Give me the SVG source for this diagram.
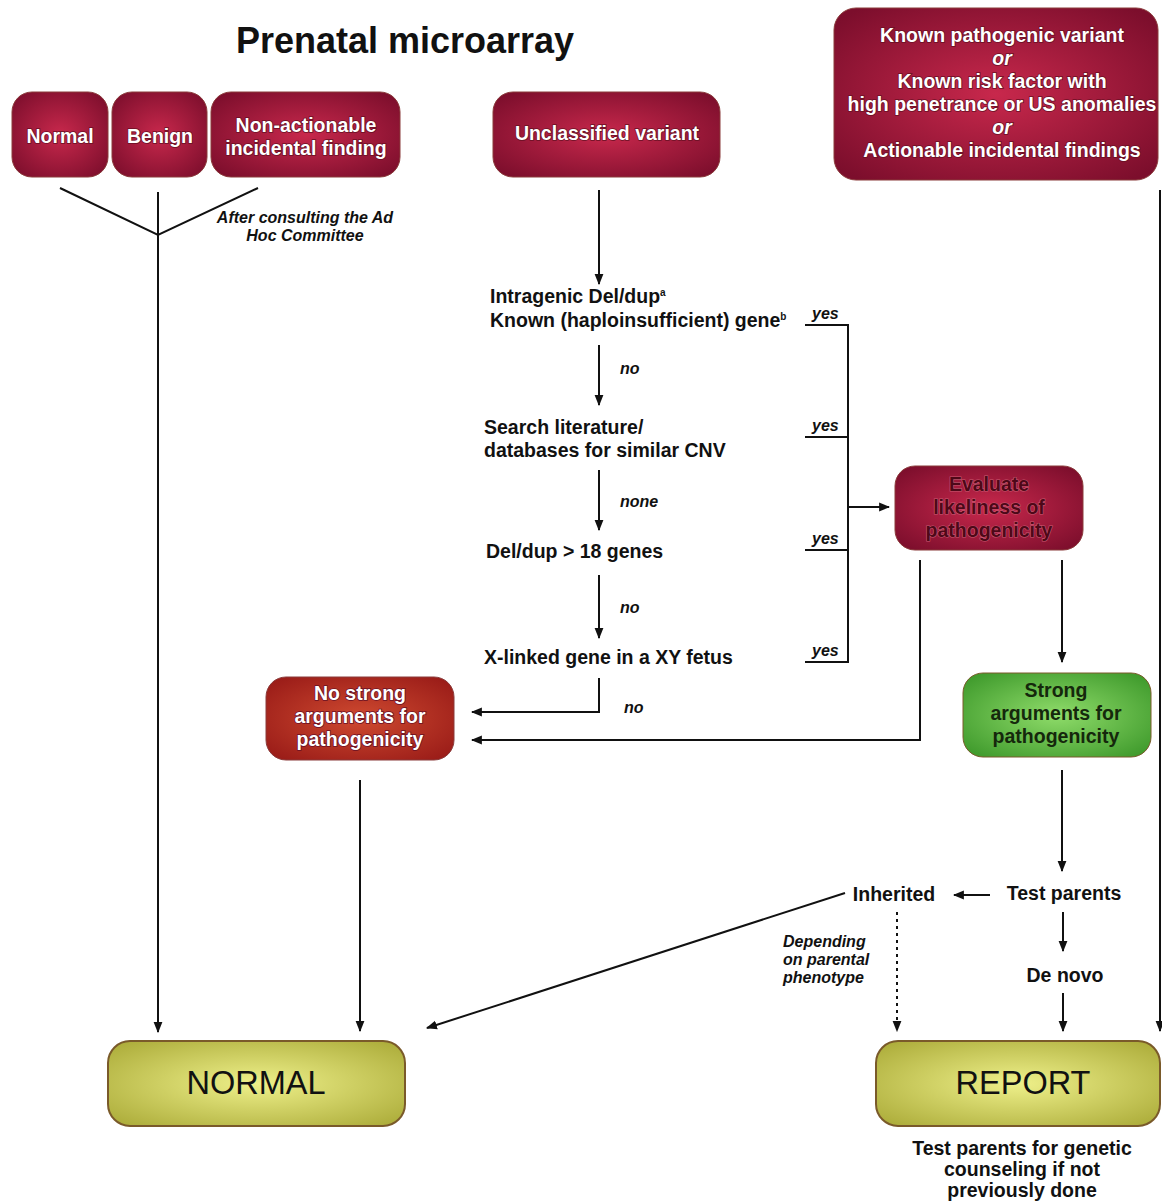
<svg xmlns="http://www.w3.org/2000/svg" width="1162" height="1203" viewBox="0 0 1162 1203">
<defs>
<radialGradient id="crim" cx="50%" cy="50%" r="65%">
<stop offset="0" stop-color="#c8284c"/><stop offset="1" stop-color="#7c0e2c"/>
</radialGradient>
<radialGradient id="red" cx="50%" cy="50%" r="65%">
<stop offset="0" stop-color="#cf4a30"/><stop offset="1" stop-color="#9a1c18"/>
</radialGradient>
<radialGradient id="green" cx="50%" cy="50%" r="65%">
<stop offset="0" stop-color="#8fdc6a"/><stop offset="1" stop-color="#3f9a2c"/>
</radialGradient>
<radialGradient id="olive" cx="50%" cy="50%" r="65%">
<stop offset="0" stop-color="#eef08a"/><stop offset="1" stop-color="#aeae3c"/>
</radialGradient>
<marker id="ah" viewBox="0 0 10 10" refX="9" refY="5" markerWidth="11" markerHeight="11" orient="auto" markerUnits="userSpaceOnUse">
<path d="M0,1 L10,5 L0,9 Z" fill="#111"/>
</marker>
<style>
.box{stroke:#8a3a3a;stroke-width:1}
.w{fill:#fff;font-family:"Liberation Sans",Arial,sans-serif;font-weight:bold;font-size:19.5px;text-anchor:middle;paint-order:stroke;stroke:#6a1024;stroke-width:1.6}
.e{fill:#4e0818;font-family:"Liberation Sans",Arial,sans-serif;font-weight:bold;font-size:19.5px;text-anchor:middle;paint-order:stroke;stroke:#c85a72;stroke-width:1.2}
.g{fill:#15280c;font-family:"Liberation Sans",Arial,sans-serif;font-weight:bold;font-size:19.5px;text-anchor:middle}
.t{fill:#111;font-family:"Liberation Sans",Arial,sans-serif;font-weight:bold;font-size:19.5px}
.i{fill:#111;font-family:"Liberation Sans",Arial,sans-serif;font-weight:bold;font-style:italic;font-size:16px}
.ln{stroke:#111;stroke-width:2;fill:none}
.big{fill:#111;font-family:"Liberation Sans",Arial,sans-serif;font-size:32.5px;text-anchor:middle}
</style>
</defs>
<rect width="1162" height="1203" fill="#fff"/>
<text x="405" y="53" style="font-family:'Liberation Sans',Arial,sans-serif;font-weight:bold;font-size:36px;text-anchor:middle" fill="#111">Prenatal microarray</text>

<g id="normal-top"><rect class="box" x="12" y="92" width="96" height="85" rx="20" fill="url(#crim)"/><text class="w" x="60" y="143">Normal</text></g>
<g id="benign"><rect class="box" x="112" y="92" width="95" height="85" rx="20" fill="url(#crim)"/><text class="w" x="160" y="143">Benign</text></g>
<g id="nonactionable"><rect class="box" x="211" y="92" width="189" height="85" rx="20" fill="url(#crim)"/><text class="w" x="306" y="132">Non-actionable</text><text class="w" x="306" y="155">incidental finding</text></g>
<g id="unclassified"><rect class="box" x="493" y="92" width="227" height="85" rx="20" fill="url(#crim)"/><text class="w" x="607" y="140">Unclassified variant</text></g>
<g id="known"><rect class="box" x="834" y="8" width="324" height="172" rx="22" fill="url(#crim)"/>
<text class="w" x="1002" y="42">Known pathogenic variant</text>
<text class="w" x="1002" y="65" font-style="italic">or</text>
<text class="w" x="1002" y="88">Known risk factor with</text>
<text class="w" x="1002" y="111">high penetrance or US anomalies</text>
<text class="w" x="1002" y="134" font-style="italic">or</text>
<text class="w" x="1002" y="157">Actionable incidental findings</text></g>

<g id="questions">
<text class="t" x="490" y="303">Intragenic Del/dup<tspan font-size="10" dy="-7">a</tspan></text>
<text class="t" x="490" y="327">Known (haploinsufficient) gene<tspan font-size="10" dy="-7">b</tspan></text>
<text class="t" x="484" y="434">Search literature/</text>
<text class="t" x="484" y="457">databases for similar CNV</text>
<text class="t" x="486" y="558">Del/dup &gt; 18 genes</text>
<text class="t" x="484" y="664">X-linked gene in a XY fetus</text>
</g>

<g id="evaluate"><rect class="box" x="895" y="466" width="188" height="84" rx="20" fill="url(#crim)"/>
<text class="e" x="989" y="491">Evaluate</text>
<text class="e" x="989" y="514">likeliness of</text>
<text class="e" x="989" y="537">pathogenicity</text></g>

<g id="nostrong"><rect class="box" x="266" y="677" width="188" height="83" rx="20" fill="url(#red)"/>
<text class="w" x="360" y="700">No strong</text>
<text class="w" x="360" y="723">arguments for</text>
<text class="w" x="360" y="746">pathogenicity</text></g>

<g id="strong"><rect x="963" y="673" width="188" height="84" rx="20" fill="url(#green)" stroke="#7a5a2a" stroke-width="1"/>
<text class="g" x="1056" y="697">Strong</text>
<text class="g" x="1056" y="720">arguments for</text>
<text class="g" x="1056" y="743">pathogenicity</text></g>

<g id="testparents"><text class="t" x="1064" y="900" text-anchor="middle">Test parents</text></g>
<g id="inherited"><text class="t" x="894" y="901" text-anchor="middle">Inherited</text></g>
<g id="denovo"><text class="t" x="1065" y="982" text-anchor="middle">De novo</text></g>

<g id="normal-out"><rect x="108" y="1041" width="297" height="85" rx="22" fill="url(#olive)" stroke="#7a5a2a" stroke-width="2"/><text class="big" x="256" y="1094">NORMAL</text></g>
<g id="report"><rect x="876" y="1041" width="284" height="85" rx="22" fill="url(#olive)" stroke="#7a5a2a" stroke-width="2"/><text class="big" x="1023" y="1094">REPORT</text></g>
<g id="report-note">
<text class="t" x="1022" y="1155" text-anchor="middle">Test parents for genetic</text>
<text class="t" x="1022" y="1176" text-anchor="middle">counseling if not</text>
<text class="t" x="1022" y="1197" text-anchor="middle">previously done</text></g>

<g id="connectors">
<path class="ln" d="M60,188 L158,235 L258,188"/>
<path class="ln" d="M158,192 L158,1032" marker-end="url(#ah)"/>
<text class="i" x="305" y="223" text-anchor="middle">After consulting the Ad</text>
<text class="i" x="305" y="241" text-anchor="middle">Hoc Committee</text>
<path class="ln" d="M599,190 L599,284" marker-end="url(#ah)"/>
<path class="ln" d="M599,345 L599,405" marker-end="url(#ah)"/>
<text class="i" x="620" y="374">no</text>
<path class="ln" d="M599,470 L599,530" marker-end="url(#ah)"/>
<text class="i" x="620" y="507">none</text>
<path class="ln" d="M599,575 L599,638" marker-end="url(#ah)"/>
<text class="i" x="620" y="613">no</text>
<path class="ln" d="M599,678 L599,712 L472,712" marker-end="url(#ah)"/>
<text class="i" x="624" y="713">no</text>
<path class="ln" d="M805,325 L848,325 L848,662 L805,662"/>
<path class="ln" d="M805,437 L848,437"/>
<path class="ln" d="M805,550 L848,550"/>
<text class="i" x="812" y="319">yes</text>
<text class="i" x="812" y="431">yes</text>
<text class="i" x="812" y="544">yes</text>
<text class="i" x="812" y="656">yes</text>
<path class="ln" d="M848,507 L889,507" marker-end="url(#ah)"/>
<path class="ln" d="M920,560 L920,740 L472,740" marker-end="url(#ah)"/>
<path class="ln" d="M1062,560 L1062,662" marker-end="url(#ah)"/>
<path class="ln" d="M1062,770 L1062,871" marker-end="url(#ah)"/>
<path class="ln" d="M990,895 L954,895" marker-end="url(#ah)"/>
<path class="ln" d="M1063,912 L1063,951" marker-end="url(#ah)"/>
<path class="ln" d="M1063,993 L1063,1031" marker-end="url(#ah)"/>
<path class="ln" d="M897,912 L897,1031" stroke-dasharray="3,4" marker-end="url(#ah)"/>
<text class="i" x="783" y="947">Depending</text>
<text class="i" x="783" y="965">on parental</text>
<text class="i" x="783" y="983">phenotype</text>
<path class="ln" d="M845,893 L427,1028" marker-end="url(#ah)"/>
<path class="ln" d="M360,780 L360,1031" marker-end="url(#ah)"/>
<path class="ln" d="M1160,190 L1160,1031" marker-end="url(#ah)"/>
</g>
</svg>
